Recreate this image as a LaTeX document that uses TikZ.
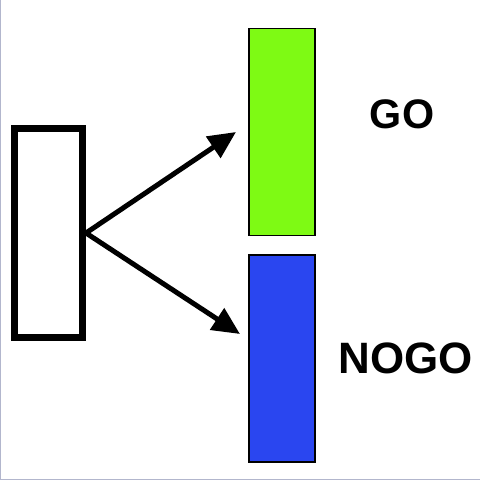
\documentclass[tikz,border=0pt]{standalone}
\usepackage{fontspec}
\setmainfont{Liberation Sans}
\usepackage{xcolor}
\usetikzlibrary{arrows.meta}
\definecolor{gogreen}{RGB}{126,250,20}
\definecolor{nogoblue}{RGB}{42,70,240}
\definecolor{edgegray}{RGB}{178,182,205}

\begin{document}
\begin{tikzpicture}[
        x=0.02cm, y=-0.02cm,
        srcbox/.style={draw, line width=0.14cm, minimum width=1.36cm,
                       minimum height=4.17cm, inner sep=0pt},
        bar/.style={draw, line width=0.6pt, minimum width=1.32cm,
                    minimum height=4.14cm, inner sep=0pt},
        tag/.style={font=\bfseries, inner sep=0pt},
        arr/.style={-{Triangle[length=0.55cm,width=0.5cm]}, line width=0.1cm}
    ]
        \useasboundingbox (0,0) rectangle (480,480);
        \draw[edgegray, line width=0.04cm] (0.5,0) -- (0.5,479.5) -- (480,479.5);
        \node[srcbox] (src)  at (48.5, 233)  {};
        \node[bar, fill=gogreen]  (go)   at (282, 132)   {};
        \node[bar, fill=nogoblue] (nogo) at (282, 358.5) {};
        \node[tag, font=\fontsize{23.5}{28}\selectfont\bfseries] (golbl)   at (402, 114.5) {GO};
        \node[tag, font=\fontsize{25}{30}\selectfont\bfseries]   (nogolbl) at (406, 358)   {NOGO};
        \coordinate (gotip)   at (236, 132);
        \coordinate (nogotip) at (240, 334);
        \draw[arr] (src.east) -- (gotip);
        \draw[arr] (src.east) -- (nogotip);
    \end{tikzpicture}
\end{document}
